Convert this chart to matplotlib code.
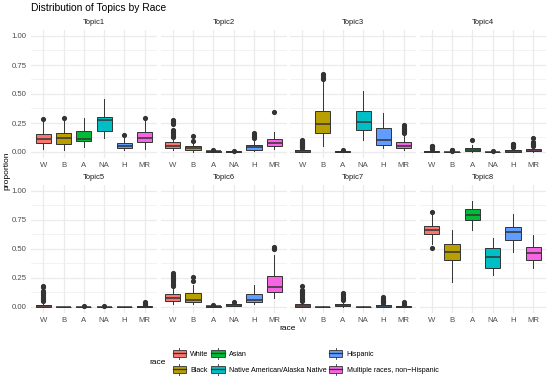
import matplotlib
matplotlib.use("Agg")
import matplotlib.pyplot as plt
from matplotlib.patches import Rectangle
from matplotlib.lines import Line2D
from matplotlib.legend_handler import HandlerBase

plt.rcParams['font.family'] = ['Liberation Sans', 'DejaVu Sans']

topics = ["Topic1", "Topic2", "Topic3", "Topic4", "Topic5", "Topic6", "Topic7", "Topic8"]
races = ["W", "B", "A", "NA", "H", "MR"]
race_names = ["White", "Black", "Asian", "Native American/Alaska Native",
              "Hispanic", "Multiple races, non\u2212Hispanic"]
colors = ["#F8766D", "#B79F00", "#00BA38", "#00BFC4", "#619CFF", "#F564E3"]
y_ticks = [0.0, 0.25, 0.50, 0.75, 1.00]
y_ticklabels = ["0.00", "0.25", "0.50", "0.75", "1.00"]

whislo = [
    [0.030, 0.020, 0.040, 0.118, 0.017, 0.030],
    [0.014, 0.003, 0.000, 0.000, 0.010, 0.026],
    [0.000, 0.050, 0.000, 0.106, 0.034, 0.014],
    [0.000, 0.000, 0.000, 0.000, 0.000, 0.000],
    [0.000, 0.000, 0.000, 0.000, 0.000, 0.000],
    [0.029, 0.025, 0.000, 0.005, 0.023, 0.075],
    [0.000, 0.000, 0.000, 0.000, 0.000, 0.000],
    [0.540, 0.216, 0.667, 0.279, 0.474, 0.336],
]
q1 = [
    [0.080, 0.072, 0.092, 0.178, 0.037, 0.086],
    [0.032, 0.014, 0.003, 0.000, 0.020, 0.049],
    [0.003, 0.164, 0.000, 0.193, 0.063, 0.032],
    [0.001, 0.000, 0.006, 0.000, 0.003, 0.006],
    [0.000, 0.000, 0.000, 0.000, 0.000, 0.000],
    [0.052, 0.046, 0.003, 0.009, 0.040, 0.129],
    [0.004, 0.000, 0.009, 0.000, 0.002, 0.001],
    [0.626, 0.405, 0.750, 0.339, 0.575, 0.405],
]
med = [
    [0.112, 0.118, 0.109, 0.279, 0.055, 0.121],
    [0.055, 0.034, 0.006, 0.003, 0.043, 0.078],
    [0.007, 0.244, 0.003, 0.259, 0.100, 0.055],
    [0.004, 0.002, 0.018, 0.002, 0.008, 0.012],
    [0.008, 0.001, 0.002, 0.002, 0.001, 0.003],
    [0.075, 0.063, 0.006, 0.017, 0.063, 0.170],
    [0.010, 0.001, 0.015, 0.002, 0.006, 0.003],
    [0.661, 0.474, 0.796, 0.428, 0.649, 0.468],
]
q3 = [
    [0.158, 0.164, 0.178, 0.302, 0.078, 0.170],
    [0.083, 0.055, 0.011, 0.006, 0.063, 0.115],
    [0.015, 0.350, 0.006, 0.350, 0.207, 0.086],
    [0.010, 0.004, 0.037, 0.004, 0.016, 0.029],
    [0.018, 0.002, 0.004, 0.004, 0.002, 0.006],
    [0.112, 0.120, 0.010, 0.026, 0.115, 0.264],
    [0.026, 0.003, 0.029, 0.004, 0.014, 0.006],
    [0.701, 0.540, 0.845, 0.506, 0.687, 0.520],
]
whishi = [
    [0.265, 0.280, 0.296, 0.457, 0.120, 0.270],
    [0.120, 0.078, 0.018, 0.008, 0.106, 0.172],
    [0.030, 0.618, 0.010, 0.530, 0.336, 0.150],
    [0.022, 0.008, 0.063, 0.008, 0.035, 0.050],
    [0.045, 0.004, 0.008, 0.008, 0.004, 0.014],
    [0.165, 0.190, 0.015, 0.030, 0.193, 0.445],
    [0.050, 0.006, 0.055, 0.008, 0.030, 0.012],
    [0.790, 0.667, 0.911, 0.595, 0.805, 0.624],
]
fliers = [
    [[0.284], [0.296], [], [], [0.147], [0.290]],
    [[0.13, 0.14, 0.15, 0.16, 0.17, 0.18, 0.19, 0.24, 0.25, 0.26, 0.27, 0.28],
     [0.098, 0.135], [0.020], [0.012], [0.12, 0.13, 0.14, 0.15, 0.16], [0.342]],
    [[0.035, 0.04, 0.045, 0.05, 0.055, 0.06, 0.065, 0.07, 0.075, 0.08, 0.085, 0.09, 0.095, 0.10],
     [0.625, 0.64, 0.65, 0.66, 0.675], [0.017], [], [],
     [0.16, 0.17, 0.18, 0.19, 0.20, 0.21, 0.22, 0.235]],
    [[0.03, 0.035, 0.04, 0.045, 0.05, 0.055], [0.012, 0.016, 0.02], [0.106], [0.01],
     [0.04, 0.045, 0.05, 0.055, 0.06, 0.065, 0.069],
     [0.055, 0.06, 0.065, 0.07, 0.075, 0.083, 0.12]],
    [[0.05, 0.06, 0.07, 0.08, 0.09, 0.10, 0.11, 0.12, 0.13, 0.14, 0.17, 0.18],
     [], [0.01], [0.01], [], [0.02, 0.025, 0.03, 0.035, 0.046]],
    [[0.18, 0.19, 0.20, 0.21, 0.22, 0.23, 0.24, 0.25, 0.26, 0.27, 0.28, 0.29],
     [0.22, 0.26], [0.02], [0.046], [], [0.50, 0.505, 0.51, 0.52]],
    [[0.055, 0.06, 0.07, 0.08, 0.09, 0.10, 0.11, 0.12, 0.13, 0.14, 0.15, 0.184],
     [], [0.06, 0.07, 0.08, 0.09, 0.10, 0.11, 0.12], [],
     [0.035, 0.04, 0.045, 0.05, 0.055, 0.06, 0.07, 0.083], [0.02, 0.03, 0.043]],
    [[0.511, 0.816], [], [], [], [], []],
]

W, H = 550, 385
fig = plt.figure(figsize=(W / 100, H / 100), dpi=100)
fig.patch.set_facecolor("white")

col_left = [31, 160.5, 290, 419.5]
col_w = 126
row_top = [30.2, 185.2]
row_h = 127.6
grid_c = "#EBEBEB"
text_c = "#4D4D4D"
edge_c = "#333333"

for t in range(8):
    r, c = divmod(t, 4)
    ax = fig.add_axes([col_left[c] / W, 1 - (row_top[r] + row_h) / H, col_w / W, row_h / H])
    ax.set_facecolor("white")
    for s in ax.spines.values():
        s.set_visible(False)
    stats = []
    for i in range(6):
        stats.append(dict(whislo=whislo[t][i], q1=q1[t][i], med=med[t][i],
                          q3=q3[t][i], whishi=whishi[t][i], fliers=fliers[t][i]))
    bp = ax.bxp(stats, positions=list(range(1, 7)), widths=0.75, patch_artist=True,
                showcaps=False,
                boxprops=dict(edgecolor=edge_c, linewidth=0.7),
                medianprops=dict(color=edge_c, linewidth=1.1),
                whiskerprops=dict(color=edge_c, linewidth=0.7),
                flierprops=dict(marker="o", markersize=2.7, markerfacecolor=edge_c,
                                markeredgecolor=edge_c, linestyle="none"),
                zorder=3)
    for patch, col in zip(bp["boxes"], colors):
        patch.set_facecolor(col)
    ax.set_xlim(0.4, 6.6)
    ax.set_ylim(-0.05, 1.05)
    ax.set_yticks(y_ticks)
    ax.set_yticks([0.125, 0.375, 0.625, 0.875], minor=True)
    ax.set_xticks(range(1, 7))
    ax.set_xticklabels(races)
    ax.grid(True, which="major", color=grid_c, linewidth=0.9, zorder=0)
    ax.grid(True, which="minor", axis="y", color=grid_c, linewidth=0.45, zorder=0)
    ax.set_axisbelow(True)
    ax.tick_params(axis="both", which="both", length=0, labelsize=5.6,
                   labelcolor=text_c, pad=3)
    if c == 0:
        ax.set_yticklabels(y_ticklabels)
    else:
        ax.set_yticklabels([])
    ax.text(0.5, 1.035, topics[t], transform=ax.transAxes, ha="center", va="bottom",
            fontsize=5.5, color="#1A1A1A")

fig.text(31 / W, 1 - 8 / H, "Distribution of Topics by Race", ha="left", va="center",
         fontsize=7.4, color="black")
fig.text(7 / W, 1 - 171 / H, "proportion", rotation=90, ha="center", va="center",
         fontsize=6, color="black")
fig.text(288 / W, 1 - 329 / H, "race", ha="center", va="center", fontsize=6, color="black")
fig.text(158 / W, 1 - 362 / H, "race", ha="center", va="center", fontsize=6, color="black")


class BoxHandler(HandlerBase):
    def create_artists(self, legend, orig_handle, xdescent, ydescent, width, height,
                       fontsize, trans):
        col = orig_handle.get_facecolor()
        x0, y0 = -xdescent, -ydescent
        bw = width
        rect = Rectangle((x0, y0 + height * 0.1), bw, height * 0.8, facecolor=col,
                         edgecolor=edge_c, linewidth=0.6, transform=trans)
        mline = Line2D([x0, x0 + bw], [y0 + height / 2] * 2, color=edge_c,
                       linewidth=0.9, transform=trans)
        wl1 = Line2D([x0 + bw / 2] * 2, [y0 - height * 0.15, y0 + height * 0.1],
                     color=edge_c, linewidth=0.6, transform=trans)
        wl2 = Line2D([x0 + bw / 2] * 2, [y0 + height * 0.9, y0 + height * 1.15],
                     color=edge_c, linewidth=0.6, transform=trans)
        return [wl1, wl2, rect, mline]


handles = [Rectangle((0, 0), 1, 1, facecolor=col) for col in colors]
leg = fig.legend(handles, race_names, ncol=3, loc="center left",
                 bbox_to_anchor=(172.5 / W, 1 - 361.5 / H), frameon=False,
                 fontsize=5.1, handlelength=1.9, handleheight=1.4,
                 handletextpad=0.6, columnspacing=0.35, labelspacing=1.05,
                 borderpad=0, borderaxespad=0,
                 handler_map={Rectangle: BoxHandler()})

fig.savefig("out.png", dpi=100, facecolor="white")
